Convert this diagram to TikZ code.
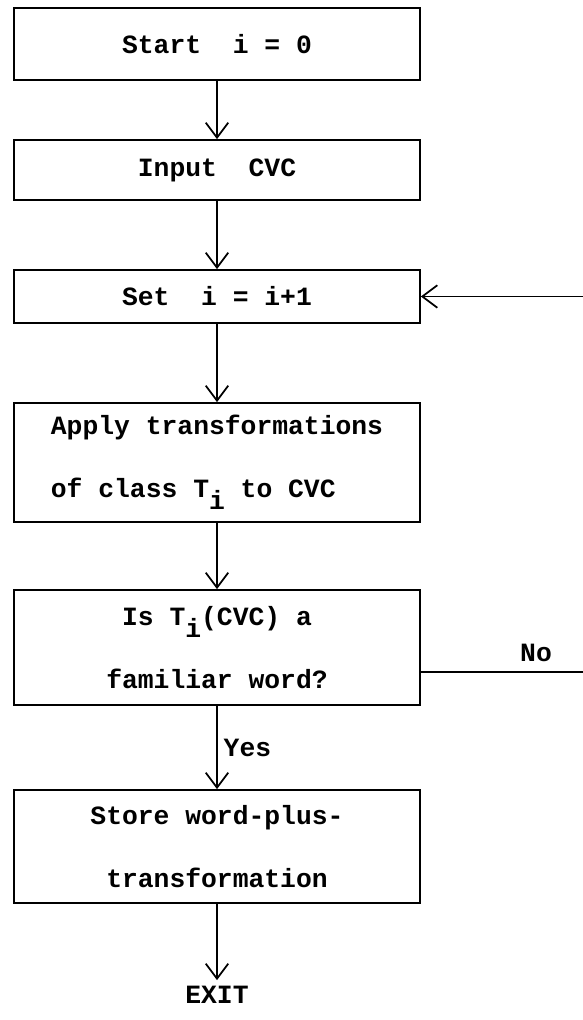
\documentclass[tikz,border=0pt]{standalone}
\usepackage{fontspec}
\setmonofont{Liberation Mono}
\usetikzlibrary{arrows.meta}
\tikzset{
  flowbox/.style={draw, line width=1pt, minimum width=8.12cm, align=center,
    font=\ttfamily\bfseries\fontsize{15}{36}\selectfont},
  flowtext/.style={font=\ttfamily\bfseries\fontsize{15}{18}\selectfont},
  flowarrow/.style={line width=1pt, -{Straight Barb[length=3mm,width=4.5mm]}}
}
\newcommand{\Tsub}{T\raisebox{-0.45em}{i}}
\begin{document}
\begin{tikzpicture}
\useasboundingbox (0,0) rectangle (11.66,-20.4);
\node[flowbox, minimum height=1.44cm] (start) at (4.34,-0.88) {Start\ \ i = 0};
\node[flowbox, minimum height=1.2cm] (input) at (4.34,-3.4) {Input\ \ CVC};
\node[flowbox, minimum height=1.06cm] (set) at (4.34,-5.93) {Set\ \ i = i+1};
\node[flowbox, minimum height=2.38cm, align=left] (apply) at (4.34,-9.25) {Apply transformations\\of class \Tsub{} to CVC};
\node[flowbox, minimum height=2.3cm] (test) at (4.34,-12.95) {Is \Tsub(CVC) a\\familiar word?};
\node[flowbox, minimum height=2.26cm] (store) at (4.34,-16.93) {Store word-plus-\\transformation};
\node[flowtext] (exit) at (4.34,-19.9) {EXIT};
\coordinate (back) at (11.66,-5.93);
\coordinate (noend) at (11.66,-13.44);
\draw[flowarrow] (start) -- (input);
\draw[flowarrow] (input) -- (set);
\draw[flowarrow] (set) -- (apply);
\draw[flowarrow] (apply) -- (test);
\draw[flowarrow] (test) -- node[flowtext, right] (yes) {Yes} (store);
\draw[flowarrow] (store) -- (exit);
% loop back from the No branch
\draw[line width=1pt] (noend -| test.east) -- (noend);
\draw[flowarrow] (back) -- (set);
\node[flowtext] (no) at (10.72,-13.06) {No};
\end{tikzpicture}
\end{document}
